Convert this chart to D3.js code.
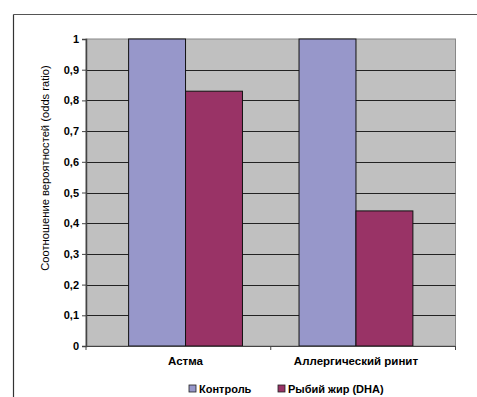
<!DOCTYPE html>
<html>
<head>
<meta charset="utf-8">
<script src="https://cdn.jsdelivr.net/npm/d3@7"></script>
<style>
  html, body { margin: 0; padding: 0; background: #fff; }
  svg { display: block; font-family: "Liberation Sans", Arial, sans-serif; }
</style>
</head>
<body>
<svg id="chart" width="477" height="397"></svg>
<script>
// Odds ratios: control group vs. fish oil (DHA) supplementation
const categories = ["Астма", "Аллергический ринит"];
const seriesNames = ["Контроль", "Рыбий жир (DHA)"];
const controlValues = [1, 1];
const fishOilValues = [0.83, 0.44];
const yTicks = [0, 0.1, 0.2, 0.3, 0.4, 0.5, 0.6, 0.7, 0.8, 0.9, 1];
const yTitle = "Соотношение вероятностей (odds ratio)";

const colors = ["#9797ca", "#993366"];
const series = [controlValues, fishOilValues];

const svg = d3.select("#chart");
const plot = { left: 86, right: 455.5, top: 39, bottom: 346 };

// outer frame (top and left edges visible)
svg.append("line").attr("x1", 13.5).attr("x2", 477).attr("y1", 14.5).attr("y2", 14.5)
  .attr("stroke", "#555").attr("stroke-width", 1);
svg.append("line").attr("x1", 13.5).attr("x2", 13.5).attr("y1", 14.5).attr("y2", 397)
  .attr("stroke", "#333").attr("stroke-width", 1.2);

const y = d3.scaleLinear().domain([0, 1]).range([plot.bottom, plot.top]);
const x0 = d3.scaleBand().domain(categories).range([plot.left, plot.right])
  .paddingInner(0.332).paddingOuter(0.25);
const x1 = d3.scaleBand().domain(seriesNames).range([0, x0.bandwidth()]);

// plot background
svg.append("rect").attr("x", plot.left).attr("y", plot.top)
  .attr("width", plot.right - plot.left).attr("height", plot.bottom - plot.top)
  .attr("fill", "#c0c0c0").attr("stroke", "#888").attr("stroke-width", 1);

// gridlines
svg.append("g").selectAll("line").data(yTicks.filter(v => v > 0 && v < 1)).join("line")
  .attr("x1", plot.left).attr("x2", plot.right)
  .attr("y1", d => Math.round(y(d)) + 0.5).attr("y2", d => Math.round(y(d)) + 0.5)
  .attr("stroke", "#222").attr("stroke-width", 1);

// bars
const groups = svg.append("g").selectAll("g").data(categories).join("g")
  .attr("transform", d => `translate(${x0(d)},0)`);
groups.selectAll("rect")
  .data((c, i) => seriesNames.map((s, j) => ({ s, v: series[j][i], j })))
  .join("rect")
  .attr("x", d => x1(d.s))
  .attr("y", d => y(d.v))
  .attr("width", x1.bandwidth())
  .attr("height", d => y(0) - y(d.v))
  .attr("fill", d => colors[d.j])
  .attr("stroke", "#111").attr("stroke-width", 1);

// y axis
const yAxis = d3.axisLeft(y).tickValues(yTicks).tickSize(4).tickPadding(3)
  .tickFormat(d => d3.format(".1~f")(d).replace(".", ","));
const ya = svg.append("g").attr("transform", `translate(${plot.left},0)`).call(yAxis);
ya.select(".domain").attr("stroke", "#444").attr("stroke-width", 1.5);
ya.selectAll(".tick line").attr("stroke", "#444");
ya.selectAll("text").attr("font-size", 11).attr("font-weight", "bold").attr("fill", "#000");

// x axis
const xa = svg.append("g").attr("transform", `translate(0,${plot.bottom})`)
  .call(d3.axisBottom(x0).tickSize(0).tickPadding(11));
xa.select(".domain").attr("stroke", "#444").attr("stroke-width", 1.2);
xa.selectAll("text").attr("font-size", 11.5).attr("font-weight", "bold").attr("fill", "#000");
// category separators
svg.append("g").selectAll("line").data([plot.left, (plot.left + plot.right) / 2, plot.right]).join("line")
  .attr("x1", d => d).attr("x2", d => d)
  .attr("y1", plot.bottom).attr("y2", plot.bottom + 4)
  .attr("stroke", "#444");

// y axis title
svg.append("text")
  .attr("transform", "translate(49,168) rotate(-90)")
  .attr("text-anchor", "middle")
  .attr("font-size", 11.2)
  .attr("fill", "#000")
  .text(yTitle);

// legend
const legendX = [189, 278];
const legend = svg.append("g").selectAll("g").data(seriesNames).join("g")
  .attr("transform", (d, i) => `translate(${legendX[i]},385)`);
legend.append("rect").attr("width", 7).attr("height", 7)
  .attr("fill", (d, i) => colors[i]).attr("stroke", "#222").attr("stroke-width", 0.8);
legend.append("text").attr("x", 10).attr("y", 8)
  .attr("font-size", 11).attr("font-weight", "bold").attr("fill", "#000")
  .text(d => d);
</script>
</body>
</html>
